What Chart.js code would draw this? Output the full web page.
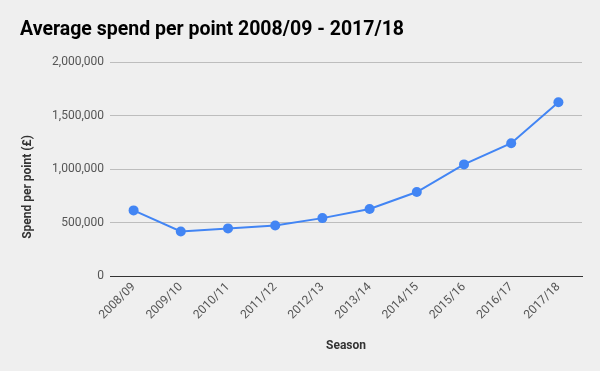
<!DOCTYPE html>
<html>
<head>
<meta charset="utf-8">
<script src="https://cdn.jsdelivr.net/npm/chart.js@4/dist/chart.umd.min.js"></script>
<style>
  body { margin: 0; background: #efefef; }
  #wrap { width: 600px; height: 371px; }
</style>
</head>
<body>
<div id="wrap"><canvas id="chart_1"></canvas></div>
<script>
const seasons = ['2008/09', '2009/10', '2010/11', '2011/12', '2012/13', '2013/14', '2014/15', '2015/16', '2016/17', '2017/18'];
const spendPerPoint = [613000, 416000, 445000, 472000, 541000, 627000, 785000, 1043000, 1241000, 1623000];
const yTicks = [0, 500000, 1000000, 1500000, 2000000];
const yTitle = 'Spend per point (£)';

// background + y axis title (google charts centres it lower than the plot)
const bgPlugin = {
  id: 'bg',
  beforeDraw: function (chart) {
    const ctx = chart.ctx;
    ctx.save();
    ctx.fillStyle = '#efefef';
    ctx.fillRect(0, 0, chart.width, chart.height);
    ctx.restore();
  },
  afterDraw: function (chart) {
    const ctx = chart.ctx;
    ctx.save();
    ctx.translate(28, 187);
    ctx.rotate(-Math.PI / 2);
    ctx.fillStyle = '#333';
    ctx.font = 'bold 12px Roboto';
    ctx.textAlign = 'center';
    ctx.textBaseline = 'middle';
    ctx.fillText(yTitle, 0, 0);
    ctx.restore();
  },
};

new Chart('chart_1', {
  type: 'line',
  data: {
    labels: seasons,
    datasets: [
      {
        data: spendPerPoint,
        borderColor: '#4285f4',
        backgroundColor: '#4285f4',
        borderWidth: 2,
        pointRadius: 5,
        pointBorderWidth: 0,
        tension: 0,
      },
    ],
  },
  options: {
    responsive: true,
    maintainAspectRatio: false,
    animation: false,
    layout: { padding: { left: 20, right: 18, top: 0, bottom: 0 } },
    plugins: {
      legend: { display: false },
      tooltip: { enabled: false },
      title: {
        display: true,
        text: 'Average spend per point 2008/09 - 2017/18',
        align: 'start',
        color: '#000',
        font: { family: 'Roboto', size: 19.5, weight: 'bold' },
        padding: { top: 18, bottom: 20.6 },
      },
    },
    scales: {
      x: {
        offset: true,
        grid: { display: false, drawTicks: false },
        border: { color: '#333' },
        ticks: {
          color: '#555',
          font: { family: 'Roboto', size: 12 },
          maxRotation: 45,
          minRotation: 45,
          padding: 4,
        },
        title: {
          display: true,
          text: 'Season',
          color: '#333',
          font: { family: 'Roboto', size: 12, weight: 'bold' },
          padding: { top: 0, bottom: 18 },
        },
        afterFit: function (scale) {
          scale.height = 95;
        },
      },
      y: {
        min: 0,
        max: 2000000,
        afterBuildTicks: function (scale) {
          scale.ticks = yTicks.map(function (v) { return { value: v }; });
        },
        grid: {
          drawTicks: false,
          color: function (c) {
            return c.tick && c.tick.value === 0 ? '#333' : '#bdbdbd';
          },
        },
        border: { display: false },
        ticks: {
          color: '#555',
          padding: 6,
          font: { family: 'Roboto', size: 12 },
          callback: function (v) {
            return Number(v).toLocaleString('en-US');
          },
        },
        afterFit: function (scale) {
          scale.width = 90;
        },
      },
    },
  },
  plugins: [bgPlugin],
});
</script>
</body>
</html>
